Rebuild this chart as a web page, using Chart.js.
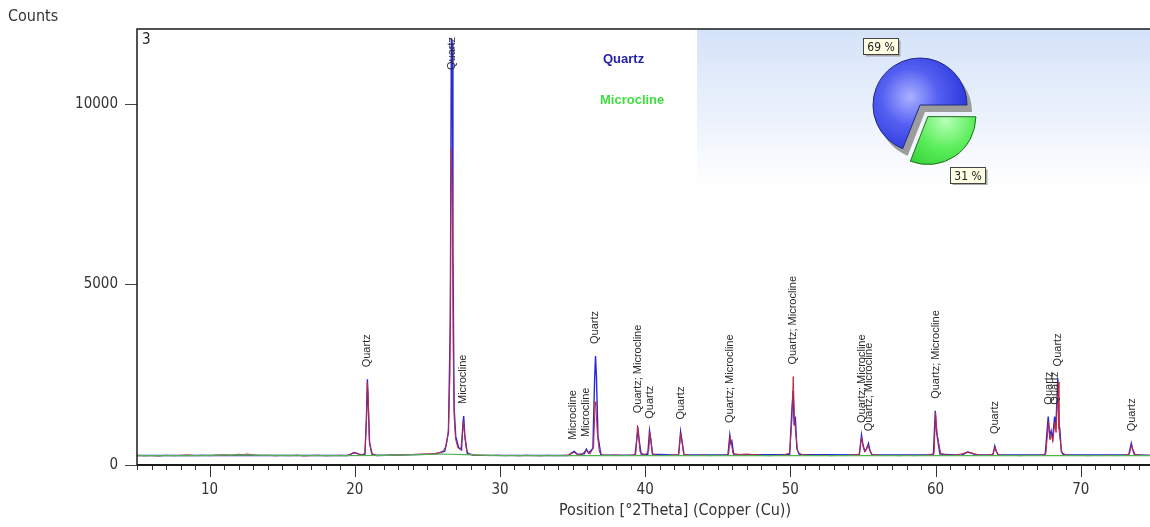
<!DOCTYPE html>
<html>
<head>
<meta charset="utf-8">
<script src="https://cdn.jsdelivr.net/npm/chart.js@4.4.1/dist/chart.umd.min.js"></script>
<style>
  html, body { margin: 0; padding: 0; background: #fff; }
  #wrap { position: relative; width: 1150px; height: 527px; overflow: hidden; }
  #xrd { position: absolute; left: 0; top: 0; }
  #phases { position: absolute; left: 840px; top: 25px; }
</style>
</head>
<body>
<div id="wrap">
  <canvas id="xrd" width="1150" height="527"></canvas>
  <canvas id="phases" width="160" height="160"></canvas>
</div>
<script>
// [2theta, counts]
const observed = [
  [5.0, 270], [5.5, 255], [6.0, 262], [6.5, 248], [7.0, 270], [7.5, 258], [8.0, 266], [8.5, 280],
  [9.0, 262], [9.5, 271], [10.0, 258], [10.5, 275], [11.0, 282], [11.5, 268], [12.0, 300], [12.3, 285],
  [12.6, 305], [13.0, 276], [13.5, 262], [14.0, 270], [14.5, 255], [15.0, 266], [15.5, 258], [16.0, 272],
  [16.5, 250], [17.0, 264], [17.5, 270], [18.0, 256], [18.5, 262], [19.0, 268], [19.4, 260],
  [19.7, 300], [19.9, 340], [20.1, 330], [20.4, 275], [20.7, 320], [20.8, 1200], [20.86, 2300],
  [20.93, 1900], [21.0, 700], [21.15, 320], [21.5, 270], [22.0, 262], [22.5, 278], [23.0, 270],
  [23.5, 285], [24.0, 292], [24.5, 300], [25.0, 310], [25.5, 318], [26.0, 360], [26.3, 520],
  [26.45, 980], [26.55, 2400], [26.62, 7000], [26.67, 8780], [26.72, 7200], [26.78, 3200],
  [26.85, 1300], [26.95, 700], [27.1, 480], [27.3, 420], [27.42, 900], [27.49, 1200], [27.56, 850],
  [27.7, 400], [27.9, 300], [28.3, 275], [28.8, 268], [29.3, 260], [29.8, 272], [30.3, 258],
  [30.8, 266], [31.3, 254], [31.8, 270], [32.3, 262], [32.8, 255], [33.3, 268], [33.8, 260],
  [34.3, 265], [34.7, 275], [35.0, 330], [35.1, 355], [35.3, 300], [35.6, 280], [35.9, 400],
  [36.0, 390], [36.2, 300], [36.45, 500], [36.55, 1750], [36.6, 1650], [36.7, 900], [36.85, 350],
  [37.1, 275], [37.5, 268], [38.0, 275], [38.5, 262], [39.0, 270], [39.35, 290], [39.47, 1100],
  [39.55, 800], [39.65, 350], [40.0, 275], [40.25, 400], [40.32, 900], [40.4, 700], [40.5, 320],
  [40.8, 270], [41.3, 262], [41.8, 270], [42.3, 285], [42.45, 880], [42.52, 700], [42.65, 300],
  [43.0, 268], [43.5, 262], [44.0, 275], [44.5, 260], [45.0, 270], [45.5, 262], [45.75, 300],
  [45.85, 800], [45.93, 600], [46.05, 320], [46.5, 290], [47.0, 305], [47.5, 285], [48.0, 270],
  [48.5, 258], [49.0, 266], [49.5, 275], [49.95, 330], [50.1, 1200], [50.2, 2450], [50.28, 1300],
  [50.36, 900], [50.5, 380], [50.65, 320], [50.8, 290], [51.3, 268], [51.8, 262], [52.3, 272],
  [52.8, 258], [53.3, 266], [53.8, 262], [54.3, 280], [54.75, 300], [54.9, 780], [55.0, 520],
  [55.15, 360], [55.35, 560], [55.45, 420], [55.6, 300], [56.0, 270], [56.5, 262], [57.0, 268],
  [57.5, 258], [58.0, 272], [58.5, 260], [59.0, 266], [59.5, 275], [59.9, 320], [60.0, 1450],
  [60.1, 900], [60.2, 650], [60.35, 330], [60.7, 280], [61.2, 270], [61.7, 300], [62.0, 330],
  [62.3, 360], [62.6, 320], [63.0, 280], [63.5, 266], [63.95, 300], [64.1, 500], [64.2, 360],
  [64.35, 280], [64.8, 262], [65.3, 270], [65.8, 258], [66.3, 272], [66.8, 262], [67.3, 270],
  [67.6, 320], [67.78, 1200], [67.88, 700], [67.98, 850], [68.08, 650], [68.22, 1200], [68.3, 900],
  [68.45, 2300], [68.5, 1000], [68.58, 700], [68.7, 350], [69.0, 275], [69.5, 262], [70.0, 270],
  [70.5, 258], [71.0, 266], [71.5, 262], [72.0, 272], [72.5, 260], [73.0, 268], [73.35, 300],
  [73.5, 560], [73.6, 420], [73.75, 290], [74.2, 265], [74.8, 270]
];

const calculated = [
  [5.0, 262], [19.5, 262], [19.75, 300], [19.95, 345], [20.15, 320], [20.45, 270], [20.7, 300],
  [20.8, 1300], [20.87, 2374], [20.94, 1500], [21.02, 600], [21.2, 290], [21.5, 265], [25.5, 300],
  [26.2, 380], [26.45, 900], [26.58, 4000], [26.65, 11828], [26.71, 11700], [26.76, 6000],
  [26.84, 1600], [26.95, 800], [27.15, 480], [27.35, 420], [27.44, 1100], [27.5, 1357], [27.58, 800],
  [27.75, 320], [28.2, 270], [34.7, 265], [35.0, 350], [35.12, 375], [35.35, 290], [35.8, 310],
  [35.95, 440], [36.1, 330], [36.4, 460], [36.52, 2400], [36.58, 3019], [36.64, 2500], [36.75, 800],
  [36.95, 280], [39.3, 270], [39.45, 800], [39.52, 950], [39.6, 650], [39.72, 300], [40.18, 290],
  [40.3, 950], [40.38, 720], [40.5, 300], [42.3, 270], [42.44, 925], [42.53, 680], [42.68, 280],
  [45.7, 275], [45.83, 830], [45.9, 600], [45.97, 660], [46.1, 280], [49.95, 290], [50.1, 1500],
  [50.19, 2050], [50.26, 1100], [50.34, 1340], [50.45, 450], [50.62, 290], [54.75, 275], [54.9, 830],
  [55.0, 560], [55.12, 380], [55.25, 450], [55.38, 600], [55.48, 400], [55.62, 280], [59.85, 285],
  [59.98, 1500], [60.06, 950], [60.14, 720], [60.3, 300], [61.8, 275], [62.2, 360], [62.5, 320],
  [62.8, 275], [63.95, 280], [64.08, 525], [64.18, 380], [64.32, 275], [67.55, 280], [67.76, 1340],
  [67.86, 800], [67.96, 950], [68.06, 720], [68.2, 1340], [68.28, 1000], [68.42, 2400], [68.5, 1100],
  [68.56, 1000], [68.66, 380], [68.8, 280], [73.3, 275], [73.48, 600], [73.56, 450], [73.7, 285],
  [74.8, 265]
];

const background = [
  [5, 262], [9, 262], [12, 278], [14, 265], [19, 258], [22, 268], [24.5, 290], [26, 305],
  [27.5, 285], [30, 262], [35, 258], [40, 258], [50, 258], [60, 260], [70, 260], [74.8, 262]
];

const peakTheta = [20.85, 26.68, 27.47, 35.06, 35.95, 36.57, 39.5, 40.32, 42.46, 45.86, 50.21,
  54.94, 55.4, 60.05, 64.12, 67.81, 68.25, 68.46, 73.54];
const peakText = ['Quartz', 'Quartz', 'Microcline', 'Microcline', 'Microcline', 'Quartz',
  'Quartz; Microcline', 'Quartz', 'Quartz', 'Quartz; Microcline', 'Quartz; Microcline',
  'Quartz; Microcline', 'Quartz; Microcline', 'Quartz; Microcline', 'Quartz', 'Quartz', 'Quartz',
  'Quartz', 'Quartz'];
const peakCounts = [2374, 11828, 1357, 370, 440, 3019, 1100, 950, 925, 830, 2450, 830, 600, 1500,
  525, 1340, 1340, 2400, 600];

const phaseNames = ['Quartz', 'Microcline'];
const phasePercent = [69, 31];

const xTicks = [10, 20, 30, 40, 50, 60, 70];
const yTicks = [0, 5000, 10000];

const NARROW = "'Liberation Sans Narrow', 'Arial Narrow', 'DejaVu Sans Condensed', sans-serif";
const toXY = arr => arr.map(([t, c]) => ({ x: t, y: c }));

const xrdDecor = {
  id: 'xrdDecor',
  beforeDraw(chart) {
    const { ctx, chartArea: a } = chart;
    ctx.save();
    ctx.fillStyle = '#fff';
    ctx.fillRect(0, 0, chart.width, chart.height);
    // light panel behind the phase pie
    const g = ctx.createLinearGradient(0, a.top, 0, 188);
    g.addColorStop(0, '#d4e2f8');
    g.addColorStop(1, '#ffffff');
    ctx.fillStyle = g;
    ctx.fillRect(697, a.top, a.right - 697, 188 - a.top);
    ctx.restore();
  },
  afterDatasetsDraw(chart) {
    const { ctx, chartArea: a, scales: { x, y } } = chart;
    ctx.save();
    // frame
    ctx.strokeStyle = '#1a1a1a';
    ctx.lineWidth = 1.5;
    ctx.beginPath();
    ctx.moveTo(a.left, a.bottom);
    ctx.lineTo(a.left, a.top);
    ctx.lineTo(a.right, a.top);
    ctx.stroke();
    ctx.lineWidth = 2;
    ctx.beginPath();
    ctx.moveTo(a.left, a.bottom);
    ctx.lineTo(a.right, a.bottom);
    ctx.stroke();

    // tick marks every degree, longer on the labelled ones
    ctx.lineWidth = 1;
    ctx.strokeStyle = '#333';
    for (let t = Math.ceil(x.min); t <= x.max; t++) {
      const px = Math.round(x.getPixelForValue(t)) + 0.5;
      const len = t % 10 === 0 ? 12 : 5;
      ctx.beginPath();
      ctx.moveTo(px, a.bottom + 1);
      ctx.lineTo(px, a.bottom + len);
      ctx.stroke();
    }

    // peak labels
    ctx.font = "11px 'Liberation Sans', Arial, sans-serif";
    ctx.fillStyle = '#2b2b2b';
    ctx.textAlign = 'left';
    ctx.textBaseline = 'middle';
    peakTheta.forEach((t, i) => {
      const px = x.getPixelForValue(t);
      const w = ctx.measureText(peakText[i]).width;
      let base = y.getPixelForValue(peakCounts[i]) - 12;
      if (base - w < a.top + 8) base = a.top + 8 + w;
      ctx.save();
      ctx.translate(px, base);
      ctx.rotate(-Math.PI / 2);
      ctx.fillText(peakText[i], 0, 0);
      ctx.restore();
    });

    // scan number
    ctx.font = '15px ' + NARROW;
    ctx.fillStyle = '#222';
    ctx.textBaseline = 'middle';
    ctx.fillText('3', a.left + 5, a.top + 11);

    // phase names
    ctx.font = "bold 13px 'Liberation Sans', Arial, sans-serif";
    ctx.fillStyle = '#2222aa';
    ctx.fillText(phaseNames[0], 603, 59);
    ctx.fillStyle = '#40dd40';
    ctx.fillText(phaseNames[1], 600, 100);

    // axis titles
    ctx.font = '16px ' + NARROW;
    ctx.fillStyle = '#333';
    ctx.fillText('Counts', 8, 17);
    ctx.textAlign = 'center';
    ctx.fillText('Position [°2Theta] (Copper (Cu))', 675, 511);
    ctx.restore();
  }
};

new Chart(document.getElementById('xrd'), {
  type: 'line',
  data: {
    datasets: [
      { label: 'Background', data: toXY(background), borderColor: '#52b152', borderWidth: 1.2 },
      { label: 'Observed', data: toXY(observed), borderColor: '#c4283c', borderWidth: 1 },
      { label: 'Calculated', data: toXY(calculated), borderColor: '#2a2ad6', borderWidth: 1.4 }
    ]
  },
  options: {
    responsive: false,
    animation: false,
    events: [],
    layout: { padding: { top: 29, left: 0, right: 0, bottom: 0 } },
    elements: { point: { radius: 0 }, line: { tension: 0 } },
    plugins: { legend: { display: false }, tooltip: { enabled: false } },
    scales: {
      x: {
        type: 'linear',
        min: 5,
        max: 74.77,
        afterFit(s) { s.height = 62; },
        afterBuildTicks(s) { s.ticks = xTicks.map(v => ({ value: v })); },
        grid: { display: false },
        border: { display: false },
        ticks: { padding: 8, color: '#333', maxRotation: 0, autoSkip: false, font: { family: NARROW, size: 15 } }
      },
      y: {
        type: 'linear',
        min: 0,
        max: 12080,
        afterFit(s) { s.width = 137; },
        afterBuildTicks(s) { s.ticks = yTicks.map(v => ({ value: v })); },
        grid: { drawOnChartArea: false, tickLength: 12, color: '#444' },
        border: { display: false },
        ticks: {
          padding: 7,
          color: '#333',
          font: { family: NARROW, size: 15 },
          callback: v => String(v)
        }
      }
    }
  },
  plugins: [xrdDecor]
});

// phase pie; Chart.js moves an arc by offset / 4
const sliceOffset = [0, 56];

const pieDecor = {
  id: 'pieDecor',
  beforeDatasetsDraw(chart) {
    const arc = chart.getDatasetMeta(0).data[0];
    const p = arc.getProps(['x', 'y', 'startAngle', 'endAngle', 'outerRadius']);
    const ctx = chart.ctx;
    ctx.save();
    ctx.fillStyle = '#9c9c9c';
    ctx.beginPath();
    ctx.moveTo(p.x + 5, p.y + 7);
    ctx.arc(p.x + 5, p.y + 7, p.outerRadius, p.startAngle, p.endAngle);
    ctx.closePath();
    ctx.fill();
    ctx.restore();
  },
  afterDraw(chart) {
    const ctx = chart.ctx;
    ctx.save();
    ctx.font = '12px ' + NARROW;
    chart.getDatasetMeta(0).data.forEach((arc, i) => {
      const p = arc.getProps(['x', 'y', 'startAngle', 'endAngle', 'outerRadius']);
      const mid = (p.startAngle + p.endAngle) / 2;
      const d = p.outerRadius + (arc.options.offset || 0) / 4 + 24;
      const bx = p.x + Math.cos(mid) * d;
      const by = p.y + Math.sin(mid) * d;
      const txt = phasePercent[i] + ' %';
      const w = Math.ceil(ctx.measureText(txt).width) + 7;
      const h = 16;
      const l = Math.round(bx - w / 2) + 0.5;
      const t = Math.round(by - h / 2) + 0.5;
      ctx.fillStyle = '#a8a8a8';
      ctx.fillRect(l + 2, t + 2, w, h);
      ctx.fillStyle = '#ffffe4';
      ctx.fillRect(l, t, w, h);
      ctx.strokeStyle = '#444';
      ctx.lineWidth = 1;
      ctx.strokeRect(l, t, w, h);
      ctx.fillStyle = '#222';
      ctx.textAlign = 'center';
      ctx.textBaseline = 'middle';
      ctx.fillText(txt, l + w / 2, t + h / 2 + 1);
    });
    ctx.restore();
  }
};

new Chart(document.getElementById('phases'), {
  type: 'pie',
  data: {
    labels: phaseNames,
    datasets: [{
      data: phasePercent,
      backgroundColor(c) {
        const chart = c.chart;
        const a = chart.chartArea;
        if (!a) return c.dataIndex === 0 ? '#4050ee' : '#50e850';
        const cx = (a.left + a.right) / 2;
        const cy = (a.top + a.bottom) / 2;
        let g;
        if (c.dataIndex === 0) {
          g = chart.ctx.createRadialGradient(cx - 10, cy - 8, 0, cx - 10, cy - 8, 56);
          g.addColorStop(0, '#aab2ff');
          g.addColorStop(0.5, '#5560f2');
          g.addColorStop(1, '#2e3bdc');
        } else {
          g = chart.ctx.createRadialGradient(cx + 18, cy + 4, 0, cx + 18, cy + 4, 56);
          g.addColorStop(0, '#b8ffb8');
          g.addColorStop(0.5, '#5cee5c');
          g.addColorStop(1, '#34d034');
        }
        return g;
      },
      borderColor: ['#1e2a80', '#1f6e1f'],
      borderWidth: 1,
      offset: sliceOffset
    }]
  },
  options: {
    responsive: false,
    animation: false,
    events: [],
    radius: 47,
    rotation: 90 + 360 * phasePercent[1] / 100,
    layout: { padding: 0 },
    plugins: { legend: { display: false }, tooltip: { enabled: false } }
  },
  plugins: [pieDecor]
});
</script>
</body>
</html>
